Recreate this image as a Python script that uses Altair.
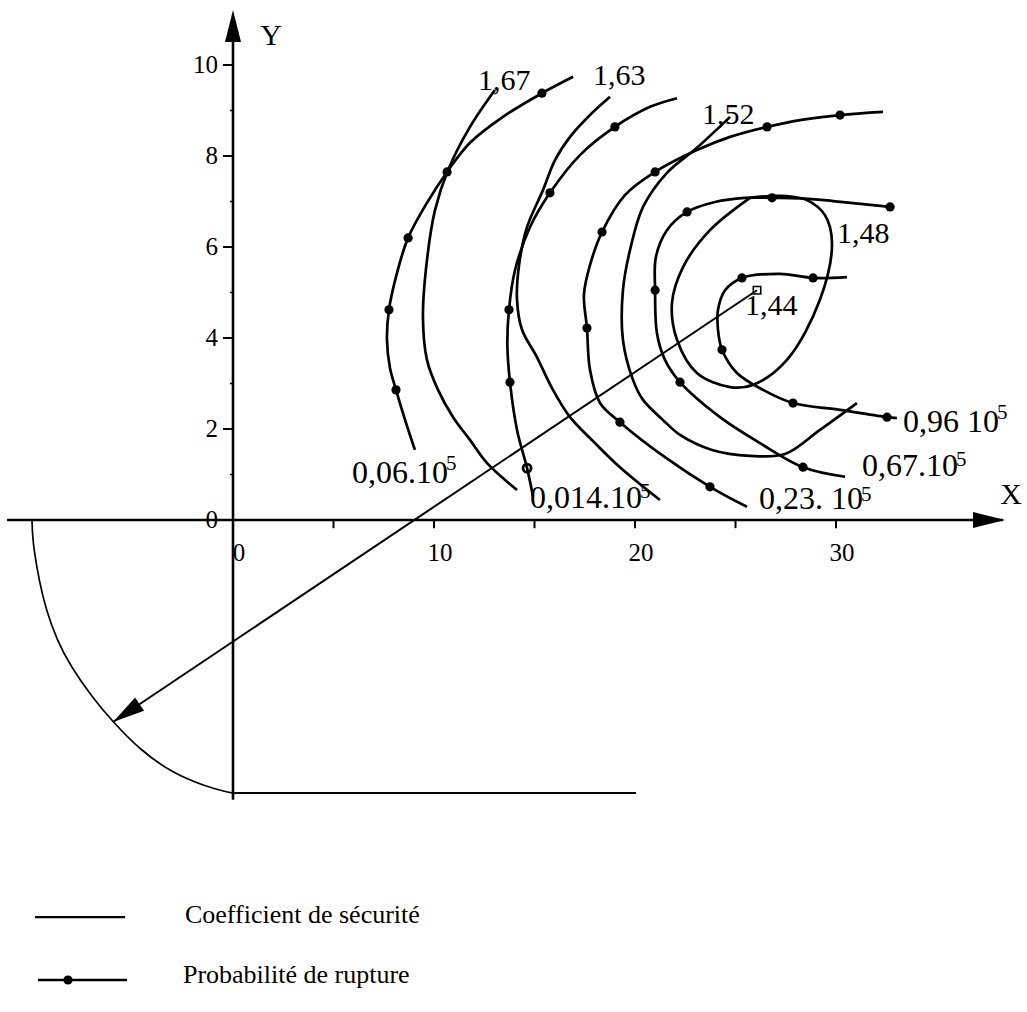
import math
import altair as alt
import pandas as pd

FONT = "Liberation Serif"

# ---------------------------------------------------------------------------
# Safety-factor contours (coefficient de sécurité); x, y of circle centres in m
# ---------------------------------------------------------------------------
F167_X = [13.03, 11.79, 10.70, 10.05, 9.65, 9.45, 9.65, 10.20, 10.95, 11.79, 12.64, 14.13]
F167_Y = [9.45, 8.64, 7.69, 6.81, 5.71, 4.46, 3.52, 2.86, 2.26, 1.76, 1.25, 0.66]

F163_X = [18.76, 17.76, 16.77, 16.02, 15.42, 14.63, 14.23, 14.13, 14.38, 15.12, 15.87,
          16.77, 18.01, 19.25, 21.24]
F163_Y = [9.30, 8.90, 8.42, 7.91, 7.25, 6.44, 5.60, 4.84, 4.18, 3.58, 2.90,
          2.26, 1.69, 1.16, 0.44]

F152_X = [24.73, 23.08, 21.59, 20.40, 19.75, 19.40, 19.40, 19.90, 20.40, 21.39, 22.24,
          23.83, 25.72, 27.46, 29.20, 31.04]
F152_Y = [8.86, 8.18, 7.63, 6.88, 5.93, 5.05, 3.96, 3.08, 2.64, 2.20, 1.87,
          1.54, 1.41, 1.45, 1.98, 2.57]

# closed contour around the minimum
F148_X = [25.72, 26.72, 27.56, 28.56, 29.45, 29.80, 29.20, 27.56, 25.87, 24.73, 23.08,
          22.09, 21.84, 22.39, 23.73, 25.72]
F148_Y = [7.08, 7.12, 7.12, 7.03, 6.70, 6.09, 4.84, 3.52, 2.97, 2.92, 3.23,
          3.96, 4.77, 5.56, 6.37, 7.08]

# ---------------------------------------------------------------------------
# Failure-probability contours (probabilité de rupture)
# flag: 1 = computed point, 2 = open point
# ---------------------------------------------------------------------------
P006_X = [16.92, 15.37, 13.43, 11.79, 10.65, 9.65, 8.71, 8.16, 7.76, 7.66, 7.81, 8.11, 8.56, 9.05]
P006_Y = [9.74, 9.38, 8.86, 8.29, 7.65, 6.97, 6.20, 5.43, 4.62, 3.96, 3.34, 2.86, 2.20, 1.54]
P006_F = [0, 1, 0, 0, 1, 0, 1, 0, 1, 0, 0, 1, 0, 0]

P0014_X = [22.09, 20.75, 19.00, 17.26, 15.77, 14.78, 14.03, 13.73, 13.65, 13.78, 14.13, 14.63, 14.93]
P0014_Y = [9.27, 9.08, 8.64, 8.02, 7.19, 6.44, 5.49, 4.62, 3.85, 3.03, 1.98, 1.14, 0.51]
P0014_F = [0, 0, 1, 0, 1, 0, 0, 1, 0, 1, 0, 2, 0]

P023_X = [32.34, 30.20, 28.21, 26.57, 24.73, 23.08, 21.00, 19.50, 18.36, 17.76, 17.46,
          17.61, 17.76, 18.26, 19.25, 21.49, 23.73, 25.57]
P023_Y = [8.97, 8.90, 8.79, 8.64, 8.42, 8.13, 7.65, 7.14, 6.33, 5.60, 4.95,
          4.22, 3.30, 2.57, 2.15, 1.38, 0.73, 0.29]
P023_F = [0, 1, 0, 1, 0, 0, 1, 0, 1, 0, 0, 1, 0, 0, 1, 0, 1, 0]

P067_X = [32.69, 29.85, 28.21, 26.82, 25.47, 23.98, 22.59, 21.59, 21.04, 21.00, 21.09,
          21.49, 22.24, 24.23, 26.22, 28.36, 30.45]
P067_Y = [6.88, 7.01, 7.07, 7.08, 7.08, 6.99, 6.77, 6.37, 5.78, 5.05, 4.11,
          3.52, 3.03, 2.26, 1.69, 1.16, 0.95]
P067_F = [1, 0, 0, 1, 0, 0, 1, 0, 0, 1, 0, 0, 1, 0, 0, 1, 0]

P096_X = [30.55, 28.86, 27.21, 25.32, 24.48, 24.13, 24.13, 24.33, 25.07, 26.37, 27.86,
          30.20, 32.54, 33.03]
P096_Y = [5.34, 5.32, 5.41, 5.32, 5.05, 4.62, 4.18, 3.74, 3.23, 2.86, 2.57,
          2.42, 2.26, 2.24]
P096_F = [0, 1, 0, 1, 0, 0, 0, 1, 0, 0, 1, 0, 1, 0]

# ---------------------------------------------------------------------------
# Section geometry: critical slip circle and substratum
# ---------------------------------------------------------------------------
ARC_X = [-10.0, -9.98, -9.90, -9.65, -9.30, -8.76, -8.06, -7.01, -5.97, -4.63, -3.03, -1.39, -0.3, 0.0]
ARC_Y = [0.0, -0.30, -0.66, -1.32, -1.98, -2.64, -3.23, -3.89, -4.44, -5.05, -5.56, -5.85, -5.98, -6.0]
BASE_X = [0.0, 20.05]
BASE_Y = -6.0
CENTRE = (26.07, 5.05)      # centre of the critical circle, F = 1,44
RADIUS_TIP = (-5.97, -4.44)

X_LABELS = [0, 10, 20, 30]
X_TICKS = [5, 10, 15, 20, 25, 30]
Y_LABELS = [0, 2, 4, 6, 8, 10]
Y_MINOR = [1, 3, 5, 7, 9]

# ---------------------------------------------------------------------------
# Canvas: the whole page is the plot area, metres mapped linearly
# ---------------------------------------------------------------------------
W, H = 1027, 1012
ORIGIN_PX = (233, 520)
KX, KY = 20.1, 45.5          # pixels per metre

xs = alt.Scale(domain=[-ORIGIN_PX[0] / KX, (W - ORIGIN_PX[0]) / KX], nice=False, zero=False)
ys = alt.Scale(domain=[(ORIGIN_PX[1] - H) / KY, ORIGIN_PX[1] / KY], nice=False, zero=False)


def X(f="x"):
    return alt.X(f"{f}:Q", scale=xs, axis=None)


def Y(f="y"):
    return alt.Y(f"{f}:Q", scale=ys, axis=None)


def head_angle(dx, dy):
    """Rotation (deg, clockwise from up) of an arrowhead travelling along (dx, dy)."""
    return math.degrees(math.atan2(dx * KX, dy * KY)) % 360


# approximate advance widths (em) of the serif face, used to set exponents
EM = {",": 0.25, ".": 0.25, " ": 0.25}


def text_width_px(s, fs):
    return sum(EM.get(c, 0.5) for c in s) * fs


# contour table
rows = []
for name, kind, xv, yv, fl in [
    ("1,67", "F", F167_X, F167_Y, None),
    ("1,63", "F", F163_X, F163_Y, None),
    ("1,52", "F", F152_X, F152_Y, None),
    ("1,48", "F", F148_X, F148_Y, None),
    ("0,06", "P", P006_X, P006_Y, P006_F),
    ("0,014", "P", P0014_X, P0014_Y, P0014_F),
    ("0,23", "P", P023_X, P023_Y, P023_F),
    ("0,67", "P", P067_X, P067_Y, P067_F),
    ("0,96", "P", P096_X, P096_Y, P096_F),
]:
    for i, (a, b) in enumerate(zip(xv, yv)):
        rows.append({"curve": name, "kind": kind, "i": i, "x": a, "y": b,
                     "flag": fl[i] if fl else 0})
curves = pd.DataFrame(rows)

arc = pd.DataFrame({"i": range(len(ARC_X)), "x": ARC_X, "y": ARC_Y})

# straight strokes: axes, ticks, substratum, radius, legend keys
LEG1_Y, LEG2_Y = -8.73, -10.11
LEG_X = (-9.85, -5.37)
rules = [
    {"x": -11.24, "y": 0, "x2": 38.3, "y2": 0, "sw": 2.6},
    {"x": 0, "y": -6.15, "x2": 0, "y2": 10.9, "sw": 2.6},
    {"x": BASE_X[0], "y": BASE_Y, "x2": BASE_X[1], "y2": BASE_Y, "sw": 2.2},
    {"x": CENTRE[0], "y": CENTRE[1], "x2": RADIUS_TIP[0], "y2": RADIUS_TIP[1], "sw": 2.0},
    {"x": LEG_X[0], "y": LEG1_Y, "x2": LEG_X[1], "y2": LEG1_Y, "sw": 2.2},
    {"x": LEG_X[0] + 0.15, "y": LEG2_Y, "x2": LEG_X[1] + 0.1, "y2": LEG2_Y, "sw": 2.4},
]
rules += [{"x": -0.5, "y": v, "x2": 0, "y2": v, "sw": 2.0} for v in Y_LABELS]
rules += [{"x": -0.15, "y": v, "x2": 0, "y2": v, "sw": 1.5} for v in Y_MINOR]
rules += [{"x": v, "y": 0, "x2": v, "y2": -0.18, "sw": 2.0} for v in X_TICKS]
rules = pd.DataFrame(rules)

heads = pd.DataFrame([
    {"x": 38.41, "y": 0.0, "angle": head_angle(1, 0)},
    {"x": 0.0, "y": 11.21, "angle": head_angle(0, 1)},
    {"x": RADIUS_TIP[0], "y": RADIUS_TIP[1],
     "angle": head_angle(RADIUS_TIP[0] - CENTRE[0], RADIUS_TIP[1] - CENTRE[1])},
])

# contour labels
COEF_LABELS = [("1,67", 12.19, 9.65), ("1,63", 17.91, 9.76), ("1,52", 23.33, 8.90),
               ("1,48", 30.05, 6.29), ("1,44", 25.47, 4.70)]
# probability labels "mantissa.10" followed by exponent 5: (text, x, y, exponent y)
PROB_LABELS = [("0,06.10", 5.92, 1.03, 1.22), ("0,014.10", 14.78, 0.48, 0.62),
               ("0,23. 10", 26.17, 0.46, 0.55), ("0,67.10", 31.29, 1.18, 1.32),
               ("0,96 10", 33.33, 2.15, 2.36)]
PROB_FS, EXP_FS = 32, 21

left = [{"t": t, "x": x, "y": y, "fs": 30} for t, x, y in COEF_LABELS]
for t, x, y, ye in PROB_LABELS:
    left.append({"t": t, "x": x, "y": y, "fs": PROB_FS})
    left.append({"t": "5", "x": x + (text_width_px(t, PROB_FS) - 2) / KX, "y": ye, "fs": EXP_FS})
left += [{"t": "Coefficient de sécurité", "x": -2.39, "y": -8.68, "fs": 26},
         {"t": "Probabilité de rupture", "x": -2.49, "y": -10.0, "fs": 26}]
left_txt = pd.DataFrame(left)

right_txt = pd.DataFrame([{"t": str(v), "x": -0.75, "y": v, "fs": 25} for v in Y_LABELS])
center_txt = pd.DataFrame(
    [{"t": str(v), "x": v + 0.3, "y": -0.73, "fs": 25} for v in X_LABELS]
    + [{"t": "Y", "x": 1.89, "y": 10.64, "fs": 30},
       {"t": "X", "x": 38.71, "y": 0.55, "fs": 30}]
)

pts = curves[curves.flag == 1][["x", "y"]]
pts = pd.concat([pts, pd.DataFrame([{"x": -8.21, "y": LEG2_Y}])], ignore_index=True)

# ---------------------------------------------------------------------------
# Layers
# ---------------------------------------------------------------------------
contours = alt.Chart(curves).mark_line(
    interpolate="catmull-rom", color="black", strokeWidth=2.7
).encode(x=X(), y=Y(), detail="curve:N", order="i:Q")

dots = alt.Chart(pts).mark_circle(size=85, color="black", opacity=1).encode(x=X(), y=Y())

open_dot = alt.Chart(curves[curves.flag == 2]).mark_point(
    shape="circle", filled=False, size=65, color="black", strokeWidth=2.8, opacity=1
).encode(x=X(), y=Y())

slip = alt.Chart(arc).mark_line(
    interpolate="basis", color="black", strokeWidth=1.7
).encode(x=X(), y=Y(), order="i:Q")

strokes = alt.Chart(rules).mark_rule(color="black").encode(
    x=X(), y=Y(), x2="x2:Q", y2="y2:Q", strokeWidth=alt.StrokeWidth("sw:Q", scale=None)
)

arrowheads = alt.Chart(heads).mark_point(
    shape="M0,0L0.5,2L-0.5,2Z", filled=True, color="black", size=1024, opacity=1, strokeWidth=0
).encode(x=X(), y=Y(), angle=alt.Angle("angle:Q", scale=None))

centre = alt.Chart(pd.DataFrame([{"x": CENTRE[0], "y": CENTRE[1]}])).mark_point(
    shape="square", filled=False, size=55, color="black", strokeWidth=1.6, opacity=1
).encode(x=X(), y=Y())


def texts(df, align):
    return alt.Chart(df).mark_text(
        font=FONT, color="black", align=align, baseline="middle"
    ).encode(x=X(), y=Y(), text="t:N", size=alt.Size("fs:Q", scale=None))


chart = alt.layer(
    strokes, slip, contours, dots, open_dot, arrowheads, centre,
    texts(left_txt, "left"), texts(right_txt, "right"), texts(center_txt, "center"),
).properties(
    width=W, height=H, padding=0, autosize="none", background="white"
).configure_view(strokeWidth=0)

chart.save("out.html", embed_options={"renderer": "svg", "actions": False})
